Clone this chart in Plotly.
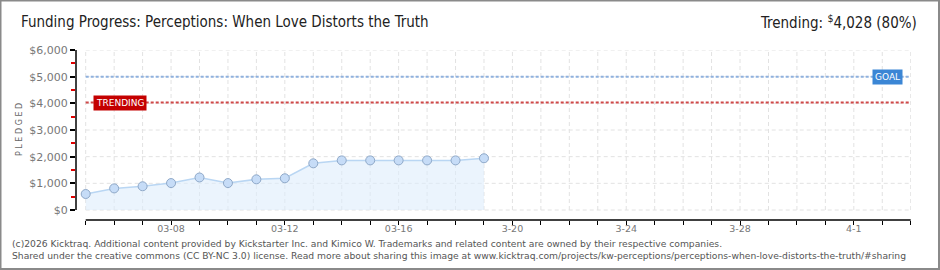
import pandas as pd
import plotly.graph_objects as go

# ---- data ----
start_date = "2026-03-05"
end_date = "2026-04-03"
pledged = [600, 810, 890, 1010, 1220, 1010, 1150, 1190, 1750, 1860, 1860, 1860, 1860, 1860, 1940]
goal = 5000
trending = 4028
y_ticks = [0, 1000, 2000, 3000, 4000, 5000, 6000]
y_tick_text = ["$0", "$1,000", "$2,000", "$3,000", "$4,000", "$5,000", "$6,000"]
y_minor_ticks = [500, 1500, 2500, 3500, 4500, 5500]
x_label_dates = ["2026-03-08", "2026-03-12", "2026-03-16", "2026-03-20", "2026-03-24", "2026-03-28", "2026-04-01"]
x_label_text = ["03-08", "03-12", "03-16", "3-20", "3-24", "3-28", "4-1"]
title_text = "Funding Progress: Perceptions: When Love Distorts the Truth"
trend_text = "Trending: <sup>$</sup>4,028 (80%)"
footer_1 = "(c)2026 Kicktraq. Additional content provided by Kickstarter Inc. and Kimico W. Trademarks and related content are owned by their respective companies."
footer_2 = "Shared under the creative commons (CC BY-NC 3.0) license. Read more about sharing this image at www.kicktraq.com/projects/kw-perceptions/perceptions-when-love-distorts-the-truth/#sharing"

dates = pd.date_range(start_date, periods=len(pledged))
all_days = pd.date_range(start_date, end_date)
tick_text = [x_label_text[x_label_dates.index(d.strftime("%Y-%m-%d"))] if d.strftime("%Y-%m-%d") in x_label_dates else "" for d in all_days]

W, H = 940, 270
L, R, T, B = 76, 29, 50, 50
pw, ph = W - L - R, H - T - B
x0 = pd.Timestamp(start_date) - pd.Timedelta(days=0.341)
x1 = pd.Timestamp(end_date) + pd.Timedelta(days=0.01)

def px_x(p):
    return (p - L) / pw
def px_y(p):
    return 1 - (p - T) / ph

fig = go.Figure()
fig.add_trace(go.Scatter(
    x=dates, y=pledged, mode="lines+markers", fill="tozeroy",
    fillcolor="rgba(222,236,251,0.6)",
    line=dict(color="#b9d6f3", width=1.5),
    marker=dict(size=9, color="#c6dcf7", line=dict(color="#8ea8c8", width=1)),
    hoverinfo="skip", showlegend=False,
))

shapes = []
grid = dict(color="#e2e2e2", width=1, dash="4px,3px")
for v in y_ticks:
    shapes.append(dict(type="line", xref="x", yref="y", x0=all_days[0], x1=all_days[-1], y0=v, y1=v, line=grid, layer="below"))
for d in all_days:
    shapes.append(dict(type="line", xref="x", yref="y", x0=d, x1=d, y0=0, y1=y_ticks[-1], line=grid, layer="below"))
# goal and trending lines
shapes.append(dict(type="line", xref="x", yref="y", x0=all_days[0], x1=all_days[-1], y0=goal, y1=goal,
                   line=dict(color="#8fb1de", width=2, dash="3px,2px")))
shapes.append(dict(type="line", xref="x", yref="y", x0=all_days[0], x1=all_days[-1], y0=trending, y1=trending,
                   line=dict(color="#d04848", width=2, dash="3px,2px")))
# axis lines
shapes.append(dict(type="line", xref="paper", yref="y", x0=0, x1=0, y0=0, y1=y_ticks[-1], line=dict(color="#000", width=1.5)))
shapes.append(dict(type="line", xref="x", yref="paper", x0=all_days[0], x1=all_days[-1], y0=0, y1=0, line=dict(color="#000", width=1.5)))
# frame
shapes.append(dict(type="rect", xref="paper", yref="paper", x0=px_x(0.5), x1=px_x(W - 1), y0=px_y(H - 1), y1=px_y(0.5),
                   line=dict(color="#8a8a8a", width=2), fillcolor="rgba(0,0,0,0)"))

annotations = [
    dict(text=title_text, xref="paper", yref="paper", x=px_x(19), y=px_y(22), xanchor="left", yanchor="middle",
         showarrow=False, font=dict(family="DejaVu Sans Condensed", size=15, color="#222")),
    dict(text=trend_text, xref="paper", yref="paper", x=px_x(919), y=px_y(22), xanchor="right", yanchor="middle",
         showarrow=False, font=dict(family="DejaVu Sans Condensed", size=15, color="#222")),
    dict(text="P L E D G E D", xref="paper", yref="paper", x=px_x(19), y=px_y(130), textangle=-90,
         xanchor="center", yanchor="middle", showarrow=False, font=dict(family="DejaVu Sans", size=8, color="#666")),
    dict(text="GOAL", xref="paper", yref="y", x=px_x(887), y=goal, xanchor="center", yanchor="middle", showarrow=False,
         bgcolor="#3b86d5", borderpad=2, font=dict(family="DejaVu Sans", size=9, color="white")),
    dict(text="TRENDING", xref="paper", yref="y", x=px_x(120), y=trending, xanchor="center", yanchor="middle", showarrow=False,
         bgcolor="#c40000", borderpad=2, font=dict(family="DejaVu Sans", size=9, color="white")),
    dict(text=footer_1, xref="paper", yref="paper", x=px_x(10), y=px_y(243), xanchor="left", yanchor="middle",
         showarrow=False, font=dict(family="DejaVu Sans", size=9.2, color="#555")),
    dict(text=footer_2, xref="paper", yref="paper", x=px_x(10), y=px_y(255), xanchor="left", yanchor="middle",
         showarrow=False, font=dict(family="DejaVu Sans", size=9.2, color="#555")),
]

fig.update_layout(
    width=W, height=H, margin=dict(l=L, r=R, t=T, b=B),
    paper_bgcolor="white", plot_bgcolor="white",
    shapes=shapes, annotations=annotations, hovermode=False,
    xaxis=dict(range=[x0, x1], showgrid=False, zeroline=False, showline=False,
               tickmode="array", tickvals=list(all_days), ticktext=tick_text,
               ticks="outside", ticklen=4, tickcolor="#000", tickwidth=1,
               ticklabelstandoff=-4,
               tickfont=dict(family="DejaVu Sans", size=9.5, color="#777")),
    yaxis=dict(range=[-375, 6000], showgrid=False, zeroline=False, showline=False,
               tickmode="array", tickvals=y_ticks, ticktext=y_tick_text,
               ticks="outside", ticklen=5, tickcolor="#000", tickwidth=1.5,
               tickfont=dict(family="DejaVu Sans", size=11, color="#777"),
               minor=dict(tickmode="array", tickvals=y_minor_ticks, ticks="outside", ticklen=4,
                          tickcolor="#e00000", tickwidth=1.5)),
)

fig.write_html("out.html")
